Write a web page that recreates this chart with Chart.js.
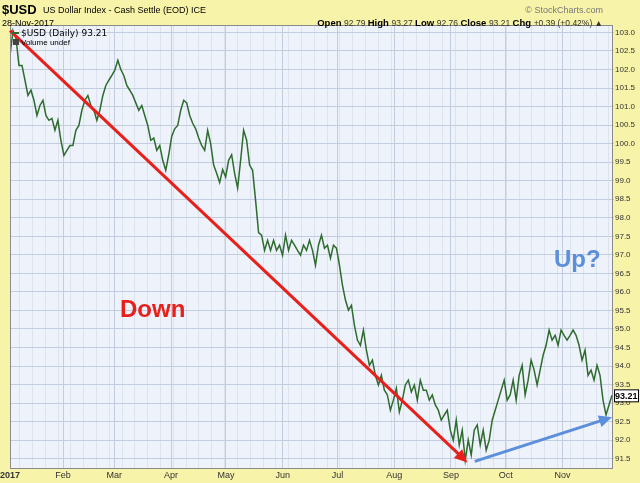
<!DOCTYPE html>
<html><head><meta charset="utf-8">
<script src="https://cdn.jsdelivr.net/npm/chart.js@4"></script>
<style>html,body{margin:0;padding:0;background:#f7f3a8}canvas{display:block}</style>
</head><body><canvas id="c" width="640" height="483"></canvas>
<script>
const values = [102.38,103.05,102.84,102.11,102.11,101.71,101.30,101.44,101.17,100.76,101.03,101.17,100.76,100.63,100.68,100.36,100.63,100.09,99.68,99.82,99.95,99.95,100.36,100.49,100.90,101.17,101.30,101.03,100.90,100.63,100.90,101.30,101.57,101.71,101.84,101.98,102.25,102.00,101.84,101.57,101.44,101.30,101.10,100.90,101.03,100.76,100.49,100.09,100.15,99.82,99.95,99.55,99.28,99.70,100.20,100.40,100.49,100.90,101.17,101.10,100.76,100.55,100.40,100.15,99.95,99.82,100.36,100.00,99.42,99.20,98.95,99.30,99.10,99.55,99.70,99.20,98.80,99.55,100.36,100.10,99.42,99.28,98.47,97.60,
97.53,97.12,97.39,97.12,97.39,97.12,97.26,96.99,97.53,97.12,97.39,97.26,97.12,96.99,97.26,97.12,97.39,97.12,96.72,97.26,97.53,97.18,97.26,96.91,97.26,97.18,96.72,96.18,95.78,95.51,95.64,95.10,94.70,94.56,94.97,94.43,94.02,94.16,93.75,93.49,93.75,93.35,93.22,92.81,93.08,93.40,92.76,93.08,93.49,93.62,93.30,93.49,93.08,93.62,93.35,93.35,93.08,93.22,92.95,92.81,92.54,92.68,92.81,92.27,92.00,92.54,91.87,92.27,91.46,92.00,91.60,92.27,92.41,91.87,92.27,91.73,92.00,92.54,92.81,93.08,93.35,93.62,93.08,93.22,93.62,93.08,93.75,94.02,93.22,93.62,94.16,93.89,93.49,93.89,94.29,94.56,94.97,94.70,94.83,94.56,94.97,94.83,94.70,94.83,94.97,94.83,94.56,94.16,94.43,93.75,93.89,93.62,94.02,93.75,93.08,92.68,92.95,93.21];
const firstDay = 3, lastDay = 332;
const days = values.map((v,i)=> firstDay + i*(lastDay-firstDay)/(values.length-1));
const monthDays = [3,32,60,91,121,152,182,213,244,274,305];
const monthLabels = ['2017','Feb','Mar','Apr','May','Jun','Jul','Aug','Sep','Oct','Nov'];
const yTicks = [];
for (let v=91.5; v<=103.01; v+=0.5) yTicks.push(+v.toFixed(1));
const downArrow = [[3,103.05],[253,91.4]];
const upArrow = [[257,91.43],[332,92.62]];

function arrow(ctx,x1,y1,x2,y2,color){
  ctx.save();ctx.strokeStyle=color;ctx.fillStyle=color;ctx.lineWidth=3;
  const a=Math.atan2(y2-y1,x2-x1);
  ctx.beginPath();ctx.moveTo(x1,y1);ctx.lineTo(x2-8*Math.cos(a),y2-8*Math.sin(a));ctx.stroke();
  ctx.beginPath();ctx.moveTo(x2,y2);
  ctx.lineTo(x2-13*Math.cos(a)+6*Math.sin(a),y2-13*Math.sin(a)-6*Math.cos(a));
  ctx.lineTo(x2-13*Math.cos(a)-6*Math.sin(a),y2-13*Math.sin(a)+6*Math.cos(a));
  ctx.closePath();ctx.fill();ctx.restore();
}
const deco = {
  id:'deco',
  beforeDraw(c){
    const {ctx,chartArea:a,scales:{x,y}}=c;
    ctx.save();ctx.fillStyle='#f7f3a8';ctx.fillRect(0,0,640,483);
    ctx.fillStyle='#eef2fa';ctx.fillRect(a.left,a.top,a.right-a.left,a.bottom-a.top);
    ctx.strokeStyle='#dde3ee';ctx.lineWidth=1;
    for(let d=8; d<lastDay; d+=7){const px=Math.round(x.getPixelForValue(d))+0.5;ctx.beginPath();ctx.moveTo(px,a.top);ctx.lineTo(px,a.bottom);ctx.stroke();}
    ctx.restore();
  },
  afterDraw(c){
    const {ctx,chartArea:a,scales:{x,y}}=c;
    ctx.save();
    ctx.strokeStyle='#8a8a8a';ctx.lineWidth=1;ctx.strokeRect(a.left+0.5,a.top+0.5,a.right-a.left,a.bottom-a.top);
    arrow(ctx,x.getPixelForValue(downArrow[0][0]),y.getPixelForValue(downArrow[0][1]),x.getPixelForValue(downArrow[1][0]),y.getPixelForValue(downArrow[1][1]),'#e8201c');
    arrow(ctx,x.getPixelForValue(upArrow[0][0]),y.getPixelForValue(upArrow[0][1]),x.getPixelForValue(upArrow[1][0]),y.getPixelForValue(upArrow[1][1]),'#5b8fdc');
    ctx.font='bold 24px Arial, "Liberation Sans"';ctx.fillStyle='#e8201c';ctx.fillText('Down',120,317);
    ctx.fillStyle='#5b8fdc';ctx.fillText('Up?',554,267);
    ctx.fillStyle='#000';ctx.font='bold 13px "Liberation Sans Narrow", Arial';ctx.fillText('$USD',2,14);
    ctx.font='9px "Liberation Sans Narrow", Arial';ctx.fillText('US Dollar Index - Cash Settle (EOD) ICE',43,13);
    ctx.fillText('28-Nov-2017',2,26);
    ctx.fillStyle='#777';ctx.textAlign='right';ctx.fillText('© StockCharts.com',603,13);
    const parts=[['Open ',1],['92.79 ',0],['High ',1],['93.27 ',0],['Low ',1],['92.76 ',0],['Close ',1],['93.21 ',0],['Chg ',1],['+0.39 (+0.42%) ▲',0]];
    ctx.textAlign='left';
    const fnt=b=>(b?'bold 9.5px':'8.5px')+' "Liberation Sans Narrow", Arial';
    let tw=0;for(const [t,b] of parts){ctx.font=fnt(b);tw+=ctx.measureText(t).width;}
    let px=603-tw;
    for(const [t,b] of parts){ctx.font=fnt(b);ctx.fillStyle=b?'#000':'#333';ctx.fillText(t,px,26);px+=ctx.measureText(t).width;}
    ctx.font='9px "DejaVu Sans", Arial';ctx.fillStyle='#000';
    ctx.fillText('$USD (Daily) 93.21',21,36);ctx.font='8px "Liberation Sans Narrow", Arial';ctx.fillText('Volume undef',21,45);
    ctx.strokeStyle='#2e6b2e';ctx.lineWidth=2;ctx.beginPath();ctx.moveTo(12,33);ctx.lineTo(19,33);ctx.stroke();
    ctx.fillStyle='#444';ctx.fillRect(13,39,6,6);
    const ly=y.getPixelForValue(values[values.length-1]);
    ctx.fillStyle='#fff';ctx.strokeStyle='#000';ctx.lineWidth=1;ctx.fillRect(614,ly-6,24,12);ctx.strokeRect(614.5,ly-5.5,24,12);
    ctx.fillStyle='#000';ctx.font='bold 9px Arial';ctx.fillText('93.21',615,ly+4);
    ctx.restore();
  }
};
new Chart(document.getElementById('c'),{
  type:'line',
  data:{datasets:[{data:days.map((d,i)=>({x:d,y:values[i]})),borderColor:'#2e6b2e',borderWidth:1.5,pointRadius:0,tension:0}]},
  options:{responsive:false,animation:false,devicePixelRatio:1,
    layout:{padding:{top:25,left:10,right:0,bottom:0}},
    plugins:{legend:{display:false},tooltip:{enabled:false}},
    scales:{
      x:{type:'linear',min:firstDay,max:lastDay,
        afterBuildTicks(s){s.ticks=monthDays.map(v=>({value:v}));},
        afterFit(s){s.height=15;s.paddingLeft=0;s.paddingRight=0;},
        ticks:{autoSkip:false,maxRotation:0,padding:2,font:c=>({size:9,family:'"Liberation Sans Narrow", Arial',weight:c.index===0?'bold':'normal'}),color:'#333',
          callback:(v,i)=>monthLabels[i]},
        grid:{color:'#c3cde0',drawTicks:false},border:{display:false}},
      y:{position:'right',min:91.25,max:103.2,
        afterBuildTicks(s){s.ticks=yTicks.map(v=>({value:v}));},
        afterFit(s){s.width=28;},
        ticks:{padding:1,font:{size:8,family:'"Liberation Sans Narrow", Arial'},color:'#333',callback:v=>v.toFixed(1)},
        grid:{color:'#c3cde0',drawTicks:true,tickLength:2},border:{display:false}}
    }
  },
  plugins:[deco]
});
</script></body></html>
